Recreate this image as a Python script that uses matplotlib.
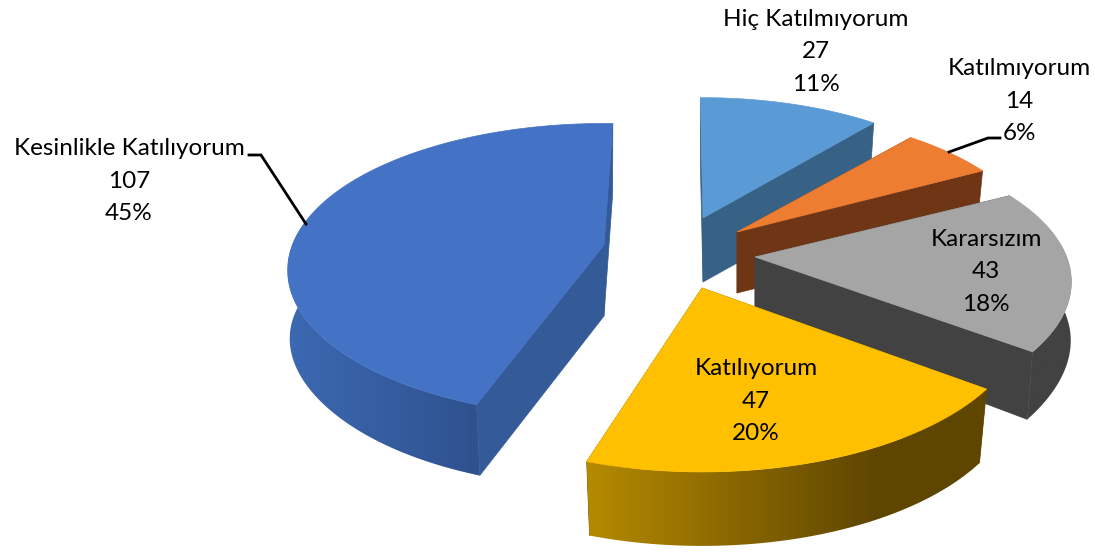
import numpy as np
import matplotlib
matplotlib.use("Agg")
import matplotlib.pyplot as plt
from matplotlib.colors import to_rgb
from matplotlib.patches import Polygon

categories = ["Hiç Katılmıyorum", "Katılmıyorum", "Kararsızım", "Katılıyorum", "Kesinlikle Katılıyorum"]
values = [27, 14, 43, 47, 107]

top_colors = ["#5B9BD5", "#ED7D31", "#A5A5A5", "#FFC000", "#4472C4"]
side_colors = ["#386186", "#6F3616", "#424242", "#6A4E00", "#345A98"]
wall_light = ["#386186", "#6F3616", "#424242", "#B58A00", "#3C69B2"]
wall_dark = ["#386186", "#6F3616", "#424242", "#5F4600", "#2F518E"]

# per-slice geometry, in pixels: apex position, depth, and scale tweaks
apex_x = [703, 737, 755, 702, 604]
apex_y = [218, 232, 257, 288, 245]
depths = [64, 61, 60, 74, 71]
scale_x = [0.94, 0.945, 0.98, 1.0, 0.98]
scale_y = [1.0, 1.0, 1.0, 1.08, 1.01]
persp = [0.172, 0.172, 0.172, 0.172, 0.172]
rotate_deg = [-0.6, 0, 0, -0.5, 1.9]
bottom_sy = [0.975, 0.975, 1.08, 1.0, 1.0]
bottom_sx = 0.975
bulge = [0, 0, 0.025, 0, 0.02]

RX, RY = 318, 141

plt.rcParams["font.family"] = ["Lato", "DejaVu Sans"]
fig = plt.figure(figsize=(10.95, 5.54), dpi=100)
ax = fig.add_axes([0, 0, 1, 1])
ax.set_xlim(0, 1095)
ax.set_ylim(554, 0)
ax.axis("off")


def rim(theta, k, sx, sy):
    u, v = np.sin(theta), np.cos(theta)
    s = 1 / (1 + k * v)
    return RX * sx * u * s, -RY * sy * v * s


total = sum(values)
bounds = np.r_[0, np.cumsum(values)] / total * 2 * np.pi
draw_order = [0, 1, 2, 4, 3]

for i in draw_order:
    rot = np.deg2rad(rotate_deg[i])
    a0, a1 = bounds[i] + rot, bounds[i + 1] + rot
    ax0, ay0 = apex_x[i], apex_y[i]
    d = depths[i]
    th = np.linspace(a0, a1, 240)
    rx, ry = rim(th, persp[i], scale_x[i], scale_y[i])
    px, py = ax0 + rx, ay0 + ry
    bx = ax0 + rx * (bottom_sx + bulge[i] * np.abs(np.sin(th)) ** 6)
    by = ay0 + ry * bottom_sy[i] + d
    z = draw_order.index(i) * 10

    # radial cut walls
    for idx in (0, -1):
        wall = [(ax0, ay0), (px[idx], py[idx]), (bx[idx], by[idx]), (ax0, ay0 + d)]
        ax.add_patch(Polygon(wall, closed=True, fc=side_colors[i], ec=side_colors[i], lw=0.5, zorder=z + 1))

    # outer rim wall, shaded left to right with a clipped gradient
    vis = np.cos(th) <= 0.1
    if vis.any():
        poly = np.column_stack([np.r_[px[vis], bx[vis][::-1]], np.r_[py[vis], by[vis][::-1]]])
        lo, hi = poly[:, 0].min(), poly[:, 0].max()
        t = np.linspace(0, 1, 256)
        if i == 3:
            t = np.minimum(t / 0.72, 1)
        c0, c1 = np.array(to_rgb(wall_light[i])), np.array(to_rgb(wall_dark[i]))
        grad = (c0[None, :] + (c1 - c0)[None, :] * t[:, None])[None, :, :]
        edge = Polygon(poly, closed=True, fc="none", ec="none", transform=ax.transData)
        ax.add_patch(edge)
        im = ax.imshow(grad, extent=(lo, hi, 554, 0), aspect="auto", zorder=z + 2, interpolation="bilinear")
        im.set_clip_path(edge)

    # top face
    face = np.column_stack([np.r_[ax0, px], np.r_[ay0, py]])
    ax.add_patch(Polygon(face, closed=True, fc=top_colors[i], ec=top_colors[i], lw=0.5, zorder=z + 3))

ax.set_xlim(0, 1095)
ax.set_ylim(554, 0)

label_pos = [(816, 52), (1019, 101), (986, 272), (756, 401), (129, 181)]
for name, v, (x, y) in zip(categories, values, label_pos):
    ax.text(x, y, f"{name}\n{v}\n{round(v / total * 100)}%", ha="center", va="center",
            fontsize=17.5, color="black", linespacing=1.68, zorder=100)

ax.plot([249, 261, 306], [155, 155, 224], color="black", lw=2, zorder=100, solid_joinstyle="miter")
ax.plot([949, 988, 1000], [152, 138, 138], color="black", lw=2, zorder=100, solid_joinstyle="miter")

fig.savefig("out.png", dpi=100, facecolor="white")
